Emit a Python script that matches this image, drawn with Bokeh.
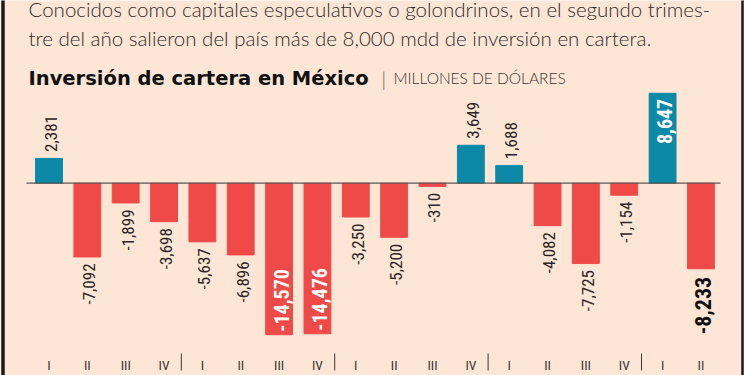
from bokeh.plotting import figure
from bokeh.models import Range1d, Label, ColumnDataSource
from bokeh.core.properties import value
from bokeh.embed import file_html
from bokeh.resources import INLINE

# ---------------- data ----------------
quarters = ["I", "II", "III", "IV", "I", "II", "III", "IV", "I", "II", "III", "IV",
            "I", "II", "III", "IV", "I", "II"]
values = [2381, -7092, -1899, -3698, -5637, -6896, -14570, -14476, -3250,
          -5200, -310, 3649, 1688, -4082, -7725, -1154, 8647, -8233]
inside_bottom = [6, 7]      # white bold labels inside bar (bottom)
inside_top = [16]           # white bold label inside bar (top)
emphasis = [17]             # bold black bigger label

headline1 = "Conocidos como capitales especulativos o golondrinos, en el segundo trimes-"
headline2 = "tre del año salieron del país más de 8,000 mdd de inversión en cartera."
title = "Inversión de cartera en México"
subtitle = "MILLONES DE DÓLARES"

# ---------------- style ----------------
BG = "#fde6d6"
TEAL = "#0b89a6"
RED = "#ef4a48"
NARROW = "Roboto Condensed, DejaVu Sans Condensed, Roboto"

W, H = 744, 375
PPU = 0.0104       # pixels per million
ZERO = 182.7       # canvas px of zero line from top
STEP = 38.35       # px between bars
X0 = 48.5          # canvas px of first bar centre


def X(cx):
    return (cx - X0) / STEP


def Y(cy):
    return (ZERO - cy) / PPU


p = figure(width=W, height=H,
           x_range=Range1d(X(0), X(W)), y_range=Range1d(Y(H), Y(0)),
           output_backend="svg", toolbar_location=None,
           x_axis_location=None, y_axis_location=None,
           min_border=0, background_fill_color=BG, border_fill_color=BG,
           outline_line_color=None)
p.grid.visible = False

idx = list(range(len(values)))
colors = [TEAL if v > 0 else RED for v in values]
src = ColumnDataSource(dict(x=idx, top=values, color=colors))
p.vbar(x="x", top="top", bottom=0, width=0.70, color="color", source=src)

# zero line
p.segment(x0=[X(26)], x1=[X(720)], y0=[0], y1=[0], line_color="#5b5552", line_width=1.2)

# value labels
G = 6.5 / PPU
special = set(inside_bottom + inside_top + emphasis)
pos = [i for i in idx if values[i] > 0 and i not in special]
neg = [i for i in idx if values[i] < 0 and i not in special]
fmt = lambda v: f"{v:,}"
DX = 0.05

p.text(x=[i + DX for i in pos], y=[values[i] + G for i in pos],
       text=[fmt(values[i]) for i in pos], angle=1.5708,
       text_align="left", text_baseline="middle",
       text_font=value(NARROW), text_font_size="17px", text_color="#2b2625")
p.text(x=[i + DX for i in neg], y=[values[i] - G for i in neg],
       text=[fmt(values[i]) for i in neg], angle=1.5708,
       text_align="right", text_baseline="middle",
       text_font=value(NARROW), text_font_size="17px", text_color="#2b2625")
p.text(x=[i + DX for i in inside_bottom], y=[values[i] + 3 / PPU for i in inside_bottom],
       text=[fmt(values[i]) for i in inside_bottom], angle=1.5708,
       text_align="left", text_baseline="middle",
       text_font=value(NARROW), text_font_size="20px", text_font_style="bold",
       text_color="white")
p.text(x=[i + DX for i in inside_top], y=[values[i] - 5.5 / PPU for i in inside_top],
       text=[fmt(values[i]) for i in inside_top], angle=1.5708,
       text_align="right", text_baseline="middle",
       text_font=value(NARROW), text_font_size="20px", text_font_style="bold",
       text_color="white")
p.text(x=[i + DX for i in emphasis], y=[values[i] - 8 / PPU for i in emphasis],
       text=[fmt(values[i]) for i in emphasis], angle=1.5708,
       text_align="right", text_baseline="middle",
       text_font=value(NARROW), text_font_size="22px", text_font_style="bold",
       text_color="#111111")

# quarter labels and year separators
p.text(x=idx, y=[Y(356)] * len(idx), text=quarters,
       text_align="center", text_baseline="top",
       text_font=value(NARROW), text_font_size="13.5px", text_color="#3a3433")
seps = [i + 0.45 for i in idx if quarters[i] == "IV"]
p.segment(x0=seps, x1=seps, y0=[Y(353)] * len(seps), y1=[Y(370)] * len(seps),
          line_color="#3a3433", line_width=1)

# frame borders
p.segment(x0=[X(2.5), X(742)], x1=[X(2.5), X(742)], y0=[Y(-2), Y(-2)], y1=[Y(H + 2), Y(H + 2)],
          line_color="#1e1a19", line_width=[3.5, 2.5])

# headline texts
p.add_layout(Label(x=X(28), y=Y(8), text=headline1, text_font="Lato Light",
                   text_font_size="20.5px", text_color="#2e2a29", text_baseline="alphabetic"))
p.add_layout(Label(x=X(28), y=Y(37), text=headline2, text_font="Lato Light",
                   text_font_size="20.5px", text_color="#2e2a29", text_baseline="alphabetic"))
p.add_layout(Label(x=X(28), y=Y(77.5), text=title, text_font="DejaVu Sans",
                   text_font_style="bold", text_font_size="19.5px", text_color="#111111",
                   text_baseline="alphabetic"))
p.add_layout(Label(x=X(381), y=Y(79), text="|", text_font="Lato Light",
                   text_font_size="19px", text_color="#555050", text_baseline="alphabetic"))
p.add_layout(Label(x=X(393), y=Y(77.5), text=subtitle, text_font="Lato Light",
                   text_font_size="15.5px", text_color="#3a3433", text_baseline="alphabetic"))

open("out.html", "w").write(file_html(p, INLINE))
